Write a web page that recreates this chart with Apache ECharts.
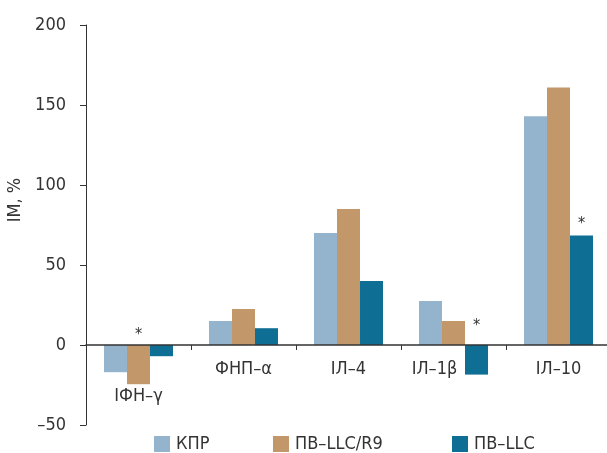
<!DOCTYPE html>
<html><head><meta charset="utf-8">
<script src="https://cdn.jsdelivr.net/npm/echarts@6/dist/echarts.min.js"></script>
<style>html,body{margin:0;padding:0;background:#fff}#c{width:607px;height:453px}</style>
</head><body><div id="c"></div>
<script>
var categories = ['ІФН–γ', 'ФНП–α', 'ІЛ–4', 'ІЛ–1β', 'ІЛ–10'];
var seriesNames = ['КПР', 'ПВ–LLC/R9', 'ПВ–LLC'];
var kpr = [-17, 15, 70, 27.5, 143];
var llcR9 = [-24.5, 22.5, 85, 15, 161];
var llc = [-7, 10.5, 40, -18.5, 68.5];
// significance marks: [seriesIndex, categoryIndex]
var marks = [[1, 0], [2, 3], [2, 4]];
var yTicks = [-50, 0, 50, 100, 150, 200];
var colors = ['#94b4ce', '#c2986a', '#0e6e93'];

var FONT = '"DejaVu Sans Condensed", "Liberation Sans Narrow", "Liberation Sans", Arial, sans-serif';
var markDist = {'1,0': 2, '2,3': 11, '2,4': 4};
function build(vals, si) {
  return vals.map(function (v, ci) {
    var key = si + ',' + ci;
    var isMark = marks.some(function (m) { return m[0] === si && m[1] === ci; });
    if (!isMark) return v;
    return {value: v, label: {show: true, position: 'top', formatter: '*', distance: markDist[key] || 3,
      fontSize: 16, color: '#333', fontFamily: FONT}};
  });
}
var all = [kpr, llcR9, llc];
var chart = echarts.init(document.getElementById('c'));
var legends = [154, 273, 452].map(function (x, i) {
  return {left: x, top: 435, padding: 0, data: [seriesNames[i]], itemWidth: 16, itemHeight: 16, itemGap: 0,
    icon: 'rect', textStyle: {fontSize: 18, color: '#333', fontFamily: FONT, padding: [0, 0, 0, 1]}};
});
// offset of category axis so that it sits at value 0
var zeroOffset = -400 * (0 - yTicks[0]) / (yTicks[yTicks.length - 1] - yTicks[0]);
var labStyle = {fontSize: 18, color: '#333', fontFamily: FONT};
chart.setOption({
  animation: false,
  color: colors,
  legend: legends,
  grid: {left: 86, top: 25, width: 525, height: 400, containLabel: false, outerBoundsMode: 'none'},
  xAxis: {
    type: 'category', data: categories, position: 'bottom', offset: zeroOffset, z: 5,
    axisLine: {onZero: false, lineStyle: {color: '#333', width: 1.5}},
    axisTick: {show: true, length: 5, lineStyle: {color: '#333'}},
    axisLabel: {
      interval: 0, hideOverlap: false,
      margin: 15, fontSize: 18, color: '#333', fontFamily: FONT,
      formatter: function (v, i) { return i === 0 ? '{low|' + v + '}' : (i === 3 ? '{left|' + v + '}' : '{n|' + v + '}'); },
      rich: {low: Object.assign({padding: [27, 0, 0, 0]}, labStyle),
             left: Object.assign({padding: [0, 38, 0, 0]}, labStyle),
             n: labStyle}
    },
    splitLine: {show: false}
  },
  yAxis: {
    type: 'value', min: yTicks[0], max: yTicks[yTicks.length - 1], interval: 50,
    name: 'ІМ, %', nameLocation: 'middle', nameGap: 55,
    nameTextStyle: {fontSize: 18, color: '#333', fontFamily: FONT, padding: [0, 0, 0, 50]},
    axisLine: {show: true, lineStyle: {color: '#333', width: 1}},
    axisTick: {show: true, inside: false, length: 6, lineStyle: {color: '#333'}},
    axisLabel: {margin: 20, fontSize: 18, color: '#333', fontFamily: FONT,
      formatter: function (v) { return String(v).replace('-', '–'); }},
    splitLine: {show: false}
  },
  series: all.map(function (vals, si) {
    return {name: seriesNames[si], type: 'bar', data: build(vals, si), barWidth: 23, barGap: '0%',
      itemStyle: {color: colors[si]}};
  })
});
</script></body></html>
